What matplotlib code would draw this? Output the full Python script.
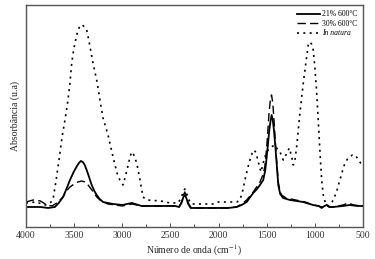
import matplotlib
matplotlib.use("Agg")
import matplotlib.pyplot as plt
from matplotlib.ticker import MultipleLocator

plt.rcParams['font.family'] = ['Liberation Serif', 'DejaVu Serif']
plt.rcParams['mathtext.fontset'] = 'stix'

# --- data (arbitrary absorbance units) ---
w_solid = [4000, 3900, 3850, 3770, 3700, 3660, 3615, 3580, 3543, 3505, 3470, 3450,
           3430, 3410, 3390, 3370, 3345, 3318, 3290, 3266, 3235, 3200, 3150, 3096,
           3000, 2900, 2800, 2600, 2450, 2410, 2385, 2365, 2350, 2335, 2315, 2290,
           2250, 2100, 1900, 1812, 1760, 1708, 1640, 1600, 1570, 1536, 1515, 1500,
           1485, 1473, 1460, 1449, 1437, 1425, 1410, 1397, 1380, 1360, 1345, 1330,
           1259, 1123, 1019, 960, 930, 900, 877, 850, 812, 708, 636, 560, 500]
a_solid = [20, 20, 20, 19, 20, 24, 30, 38, 47, 55, 61, 64,
           66, 65, 62, 57, 50, 42, 36, 32, 28, 25, 24, 23,
           22, 24, 21, 21, 21, 20, 24, 30, 32, 29, 23, 19,
           19, 19, 19, 20, 22, 25, 34, 38, 42, 47, 57, 70,
           85, 97, 106, 112, 107, 97, 80, 64, 42, 33, 31, 29,
           27, 25, 22, 21, 19, 21, 22, 20, 20, 21, 22, 21, 21]

w_dash = [4000, 3925, 3850, 3785, 3730, 3680, 3615, 3580, 3543, 3500, 3460, 3420,
          3390, 3370, 3340, 3300, 3265, 3232, 3150, 3000, 2900, 2800, 2600, 2450,
          2410, 2385, 2365, 2350, 2335, 2315, 2290, 2250, 2100, 1900, 1812, 1760,
          1708, 1640, 1570, 1540, 1520, 1500, 1487, 1475, 1462, 1450, 1437, 1425,
          1412, 1400, 1380, 1360, 1345, 1300, 1200, 1100, 1019, 960, 930, 900, 877,
          850, 812, 708, 650, 600, 500]
a_dash = [25, 27, 26, 22, 21, 24, 30, 36, 40, 43, 45, 46,
          45, 44, 40, 35, 30, 27, 23, 21, 23, 21, 21, 21,
          20, 25, 32, 35, 31, 24, 20, 19, 19, 19, 20, 23,
          27, 35, 45, 52, 60, 80, 98, 115, 127, 132, 124, 108,
          88, 70, 45, 35, 32, 29, 27, 25, 22, 21, 20, 21, 22,
          20, 20, 22, 24, 22, 21]

w_dot = [4000, 3900, 3800, 3760, 3720, 3690, 3657, 3625, 3595, 3564, 3543, 3525,
         3505, 3491, 3470, 3450, 3430, 3413, 3395, 3370, 3350, 3335, 3304, 3266,
         3232, 3200, 3148, 3096, 3055, 3025, 3003, 2993, 2975, 2951, 2920, 2903,
         2880, 2850, 2816, 2785, 2745, 2600, 2505, 2420, 2385, 2365, 2350, 2335,
         2315, 2280, 2200, 2050, 2000, 1900, 1810, 1778, 1750, 1726, 1700, 1674,
         1650, 1630, 1610, 1588, 1560, 1520, 1480, 1450, 1420, 1390, 1362, 1328,
         1300, 1265, 1240, 1224, 1205, 1189, 1155, 1120, 1103, 1085, 1069, 1051,
         1035, 1017, 1000, 982, 965, 947, 930, 913, 890, 864, 840, 809, 775, 740,
         710, 687, 660, 636, 610, 584, 560, 532, 500]
a_dot = [24, 25, 22, 23, 27, 45, 67, 90, 107, 127, 144, 164,
         177, 184, 193, 199, 202, 202, 200, 197, 188, 180, 164, 147,
         127, 109, 92, 70, 54, 47, 44, 42, 48, 57, 70, 75,
         72, 64, 47, 30, 27, 26, 24, 24, 30, 36, 38, 35,
         28, 23, 23, 23, 25, 25, 25, 27, 36, 47, 58, 67,
         74, 77, 74, 65, 55, 70, 78, 80, 82, 78, 75, 67,
         72, 79, 70, 62, 68, 80, 114, 144, 157, 170, 182, 185,
         183, 177, 160, 136, 107, 75, 48, 32, 24, 21, 22, 27, 35, 47,
         57, 64, 68, 70, 72, 72, 69, 65, 60]

# --- plot ---
fig = plt.figure(figsize=(3.75, 2.59), dpi=100)
ax = fig.add_axes([0.0693, 0.1236, 0.8987, 0.8574])

ax.plot(w_solid, a_solid, color='black', lw=1.3, label='21% 600°C')
ax.plot(w_dash, a_dash, color='black', lw=1.0, ls=(0, (6, 3)), label='30% 600°C')
ax.plot(w_dot, a_dot, color='black', lw=1.2, ls=(0, (1.2, 2.6)), label='In natura')

ax.set_xlim(4000, 500)
ax.set_ylim(0, 222)
ax.xaxis.set_major_locator(MultipleLocator(500))
ax.xaxis.set_minor_locator(MultipleLocator(250))
ax.tick_params(axis='x', which='major', direction='in', length=3, width=0.6,
               labelsize=7, pad=3, colors='#333333')
ax.tick_params(axis='x', which='minor', direction='in', length=2, width=0.6,
               colors='#333333')
ax.set_yticks([])
for sp in ax.spines.values():
    sp.set_color('#555555')
    sp.set_linewidth(1.0)

ax.set_xlabel('Número de onda (cm$^{-1}$)', fontsize=7, labelpad=2, color='#222222')
ax.set_ylabel('Absorbância (u.a)', fontsize=7, labelpad=4, color='#222222')

leg = ax.legend(loc='upper right', frameon=False, fontsize=5.5, handlelength=3.0,
                handletextpad=0.3, labelspacing=0.2, borderaxespad=0.3)
leg.get_texts()[2].set_style('italic')

fig.savefig('out.png', dpi=100)
